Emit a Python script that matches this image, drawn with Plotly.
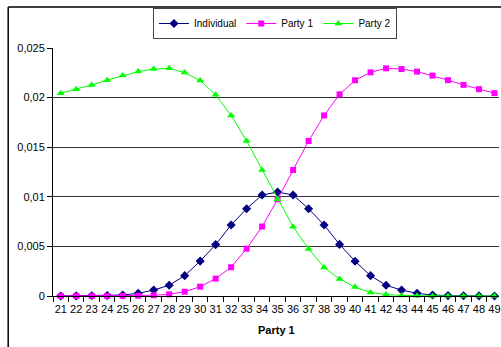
import plotly.graph_objects as go

# Category axis: number of votes for Party 1
positions = [str(v) for v in range(21, 50)]

individual = [0.000005, 0.00001, 0.00002, 0.00004, 0.0001, 0.00027, 0.0006, 0.00108,
              0.00205, 0.00352, 0.00518, 0.00716, 0.0088, 0.01018, 0.01048, 0.01018,
              0.0088, 0.00716, 0.0052, 0.0035, 0.00205, 0.00108, 0.0006, 0.00027,
              0.0001, 0.00004, 0.00002, 0.00001, 0.0]

party1 = [0.0, 0.0, 0.0, 0.0, 0.00001, 0.00003, 0.00007, 0.00017, 0.00043, 0.00094,
          0.00175, 0.0029, 0.00477, 0.007, 0.00975, 0.0127, 0.01563, 0.0182, 0.02033,
          0.02175, 0.02255, 0.02295, 0.02288, 0.02262, 0.02222, 0.02176, 0.02128,
          0.02085, 0.02045]

party2 = [0.02045, 0.02085, 0.02128, 0.02176, 0.02222, 0.02262, 0.02288, 0.02295,
          0.02252, 0.02172, 0.02028, 0.0182, 0.01563, 0.0127, 0.00975, 0.00698,
          0.00475, 0.00288, 0.00172, 0.0009, 0.00035, 0.00015, 0.00006, 0.00002,
          0.00001, 0.0, 0.0, 0.0, 0.0]

y_ticks = [0, 0.005, 0.01, 0.015, 0.02, 0.025]
y_tick_text = ["0", "0,005", "0,01", "0,015", "0,02", "0,025"]

W, H = 501, 347
ML, MR, MT, MB = 53, 0, 48, 51
plot_w = W - ML - MR
plot_h = H - MT - MB
step = 15.56  # pixels per category


def px_x(p):
    return (p - ML) / plot_w


def px_y(p):
    return (H - MB - p) / plot_h


font = "Liberation Sans, Arial, sans-serif"

fig = go.Figure()
series = [
    ("Individual", individual, "#000080", "diamond", 7),
    ("Party 1", party1, "#FF00FF", "square", 6),
    ("Party 2", party2, "#00FF00", "triangle-up", 7),
]
for name, vals, color, symbol, size in series:
    fig.add_trace(go.Scatter(
        x=positions, y=vals, name=name, mode="lines+markers",
        line=dict(color=color, width=1),
        marker=dict(color=color, symbol=symbol, size=size, line=dict(width=0)),
        cliponaxis=False,
    ))

fig.update_layout(
    width=W, height=H,
    margin=dict(l=ML, r=MR, t=MT, b=MB),
    paper_bgcolor="white", plot_bgcolor="white",
    font=dict(family=font, size=11, color="black"),
    showlegend=True,
    legend=dict(
        orientation="h", x=px_x(276), xanchor="center", y=px_y(8), yanchor="top",
        bgcolor="white", bordercolor="#444", borderwidth=1,
        font=dict(size=10, family=font), itemwidth=30, tracegroupgap=0,
    ),
    xaxis=dict(
        type="category", range=[-0.5, -0.5 + plot_w / step],
        tickson="boundaries", ticks="outside", ticklen=5, tickcolor="black",
        tickangle=0, ticklabelstandoff=3,
        showline=True, linecolor="black", linewidth=1, showgrid=False,
        zeroline=False, tickfont=dict(size=11),
    ),
    yaxis=dict(
        range=[0, 0.025], tickvals=y_ticks, ticktext=y_tick_text,
        ticks="outside", ticklen=5, tickcolor="black",
        showline=True, linecolor="black", linewidth=1,
        showgrid=True, gridcolor="#333", gridwidth=1, zeroline=False,
        tickfont=dict(size=11),
    ),
    annotations=[dict(
        text="<b>Party 1</b>", x=px_x(277), y=px_y(330), xref="paper", yref="paper",
        showarrow=False, xanchor="center", yanchor="middle", font=dict(size=11),
    )],
    shapes=[
        dict(type="line", xref="paper", yref="paper",
             x0=px_x(8), x1=px_x(W + 5), y0=px_y(7), y1=px_y(7),
             line=dict(color="black", width=1.5)),
        dict(type="line", xref="paper", yref="paper",
             x0=px_x(8), x1=px_x(8), y0=px_y(7), y1=px_y(H + 5),
             line=dict(color="black", width=1.5)),
    ],
)

fig.write_html("out.html")
